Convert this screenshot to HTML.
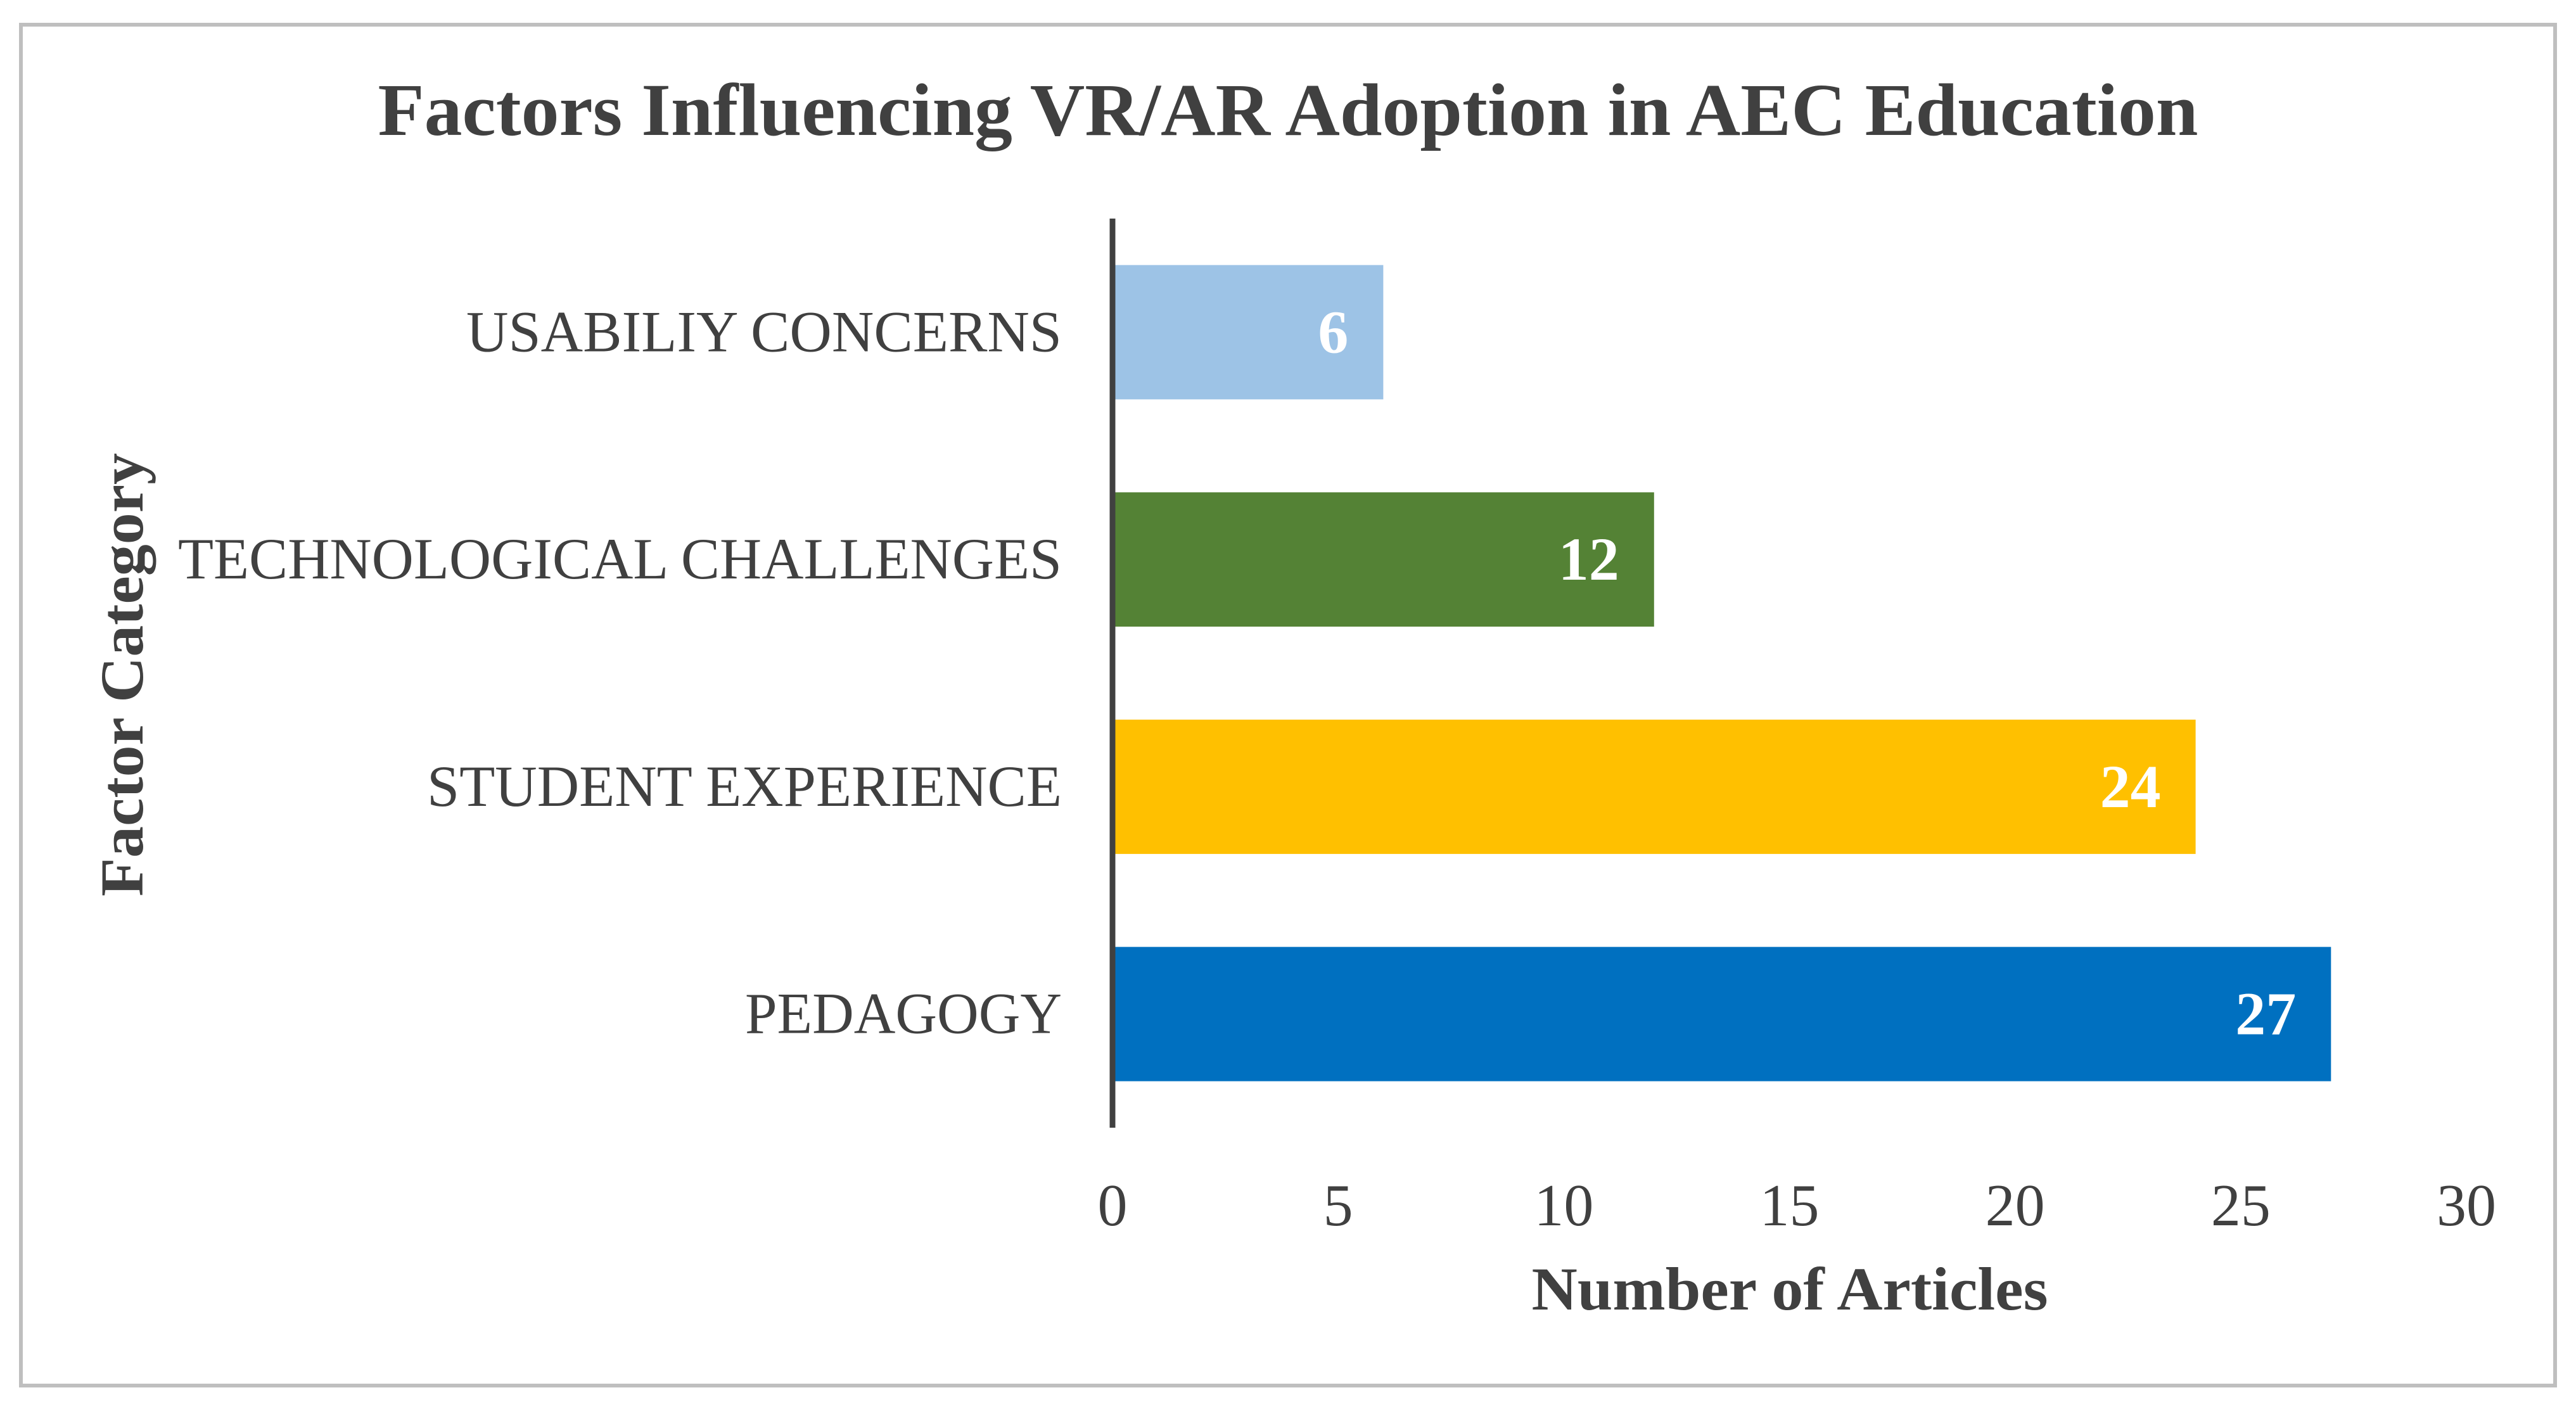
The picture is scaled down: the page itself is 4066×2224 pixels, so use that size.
<!DOCTYPE html>
<html><head><meta charset="utf-8"><style>html,body{margin:0;padding:0;background:#fff}svg{display:block}</style></head>
<body>
<svg id="chart" width="4066" height="2224" viewBox="0 0 4066 2224" xmlns="http://www.w3.org/2000/svg" font-family="'Liberation Serif', serif">
<rect x="33" y="39" width="4000" height="2148" fill="#fff" stroke="#bfbfbf" stroke-width="6"/>
<text x="2033" y="213" text-anchor="middle" font-size="118" font-weight="bold" fill="#404040" textLength="2873" lengthAdjust="spacingAndGlyphs">Factors Influencing VR/AR Adoption in AEC Education</text>
<text transform="translate(225,1065) rotate(-90)" text-anchor="middle" font-size="96" font-weight="bold" fill="#404040" textLength="700" lengthAdjust="spacingAndGlyphs">Factor Category</text>
<text x="2825" y="2067" text-anchor="middle" font-size="96" font-weight="bold" fill="#404040" textLength="815" lengthAdjust="spacingAndGlyphs">Number of Articles</text>
<g id="bars"></g>
<g id="ticks"></g>
<g id="cats"></g>
<line x1="1756" y1="345" x2="1756" y2="1780" stroke="#404040" stroke-width="9"/>
</svg>
<script>
const categories = ["USABILIY CONCERNS","TECHNOLOGICAL CHALLENGES","STUDENT EXPERIENCE","PEDAGOGY"];
const values = [6,12,24,27];
const colors = ["#9dc3e6","#548235","#ffc000","#0070c0"];
const tickLabels = [0,5,10,15,20,25,30];
const labelWidths = [940,1395,1002,500];

const NS="http://www.w3.org/2000/svg";
const x0=1756, x1=3893, xMax=30, yTop=345, yBot=1780;
const band=(yBot-yTop)/categories.length, barH=212;
function xs(v){return x0+(x1-x0)*v/xMax;}
function yc(i){return yTop+band*(i+0.5);}
const gb=document.getElementById('bars'), gt=document.getElementById('ticks'), gc=document.getElementById('cats');
categories.forEach((c,i)=>{
  const r=document.createElementNS(NS,'rect');
  
  
  r.setAttribute('x',x0);r.setAttribute('y',yc(i)-barH/2);
  r.setAttribute('width',xs(values[i])-x0);r.setAttribute('height',barH);
  r.setAttribute('fill',colors[i]);
  gb.appendChild(r);
  const t=document.createElementNS(NS,'text');
  
  
  t.setAttribute('x',xs(values[i])-55);t.setAttribute('y',yc(i)+32);
  t.setAttribute('text-anchor','end');t.setAttribute('font-size','96');
  t.setAttribute('font-weight','bold');t.setAttribute('fill','#fff');
  t.textContent=values[i];
  gb.appendChild(t);
  const l=document.createElementNS(NS,'text');
  
  
  l.setAttribute('x',1676);l.setAttribute('y',yc(i)+30);
  l.setAttribute('text-anchor','end');l.setAttribute('font-size','92');
  l.setAttribute('fill','#404040');
  l.setAttribute('textLength',labelWidths[i]);l.setAttribute('lengthAdjust','spacingAndGlyphs');
  l.textContent=c;
  gc.appendChild(l);
});
tickLabels.forEach(v=>{
  const t=document.createElementNS(NS,'text');
  
  
  t.setAttribute('x',xs(v));t.setAttribute('y',1934);
  t.setAttribute('text-anchor','middle');t.setAttribute('font-size','94');
  t.setAttribute('fill','#404040');
  t.textContent=v;
  gt.appendChild(t);
});
</script>
</body></html>
